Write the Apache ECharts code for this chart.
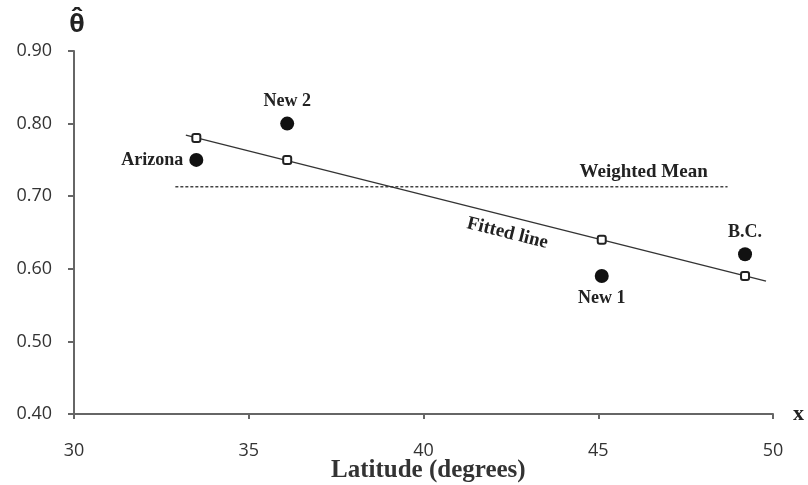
<!DOCTYPE html>
<html>
<head>
<meta charset="utf-8">
<script src="https://cdn.jsdelivr.net/npm/echarts@6/dist/echarts.min.js"></script>
<style>
  html, body { margin: 0; padding: 0; background: #fff; }
  #chart { width: 808px; height: 485px; }
</style>
</head>
<body>
<div id="chart"></div>
<script>
// latitude of each site, observed theta-hat and the fitted value
const latitudes = [33.5, 36.1, 45.1, 49.2]
const siteNames = ['Arizona', 'New 2', 'New 1', 'B.C.']
const labelPos = ['left', 'top', 'bottom', 'top']
const observed = [0.75, 0.80, 0.59, 0.62]
const fitted = [0.78, 0.75, 0.64, 0.59]

// regression line ends and weighted mean
const fitLineX = [33.2, 49.8]
const fitLineY = [0.784, 0.583]
const meanX = [32.9, 48.7]
const weightedMean = 0.713

// where the two line captions sit (data coords)
const captions = ['Weighted Mean', 'Fitted line']
const captionAt = [[46.3, 0.733], [42.4, 0.649]]
const captionRotate = [0, -14]

const xTicks = [30, 35, 40, 45, 50]
const yTicks = [0.4, 0.5, 0.6, 0.7, 0.8, 0.9]

const serif = '"Liberation Serif", "DejaVu Serif", serif'
const sans = '"Open Sans", "Noto Sans", sans-serif'
const ink = '#222'

const chart = echarts.init(document.getElementById('chart'))

const option = {
  animation: false,
  grid: { left: 74, right: 35, top: 51, bottom: 71 },
  title: {
    text: 'Latitude (degrees)',
    left: 326,
    top: 453,
    textStyle: { fontFamily: serif, fontSize: 25, fontWeight: 'bold', color: '#333' }
  },
  xAxis: {
    type: 'value',
    min: xTicks[0],
    max: xTicks[xTicks.length - 1],
    interval: 5,
    name: 'x',
    nameLocation: 'end',
    nameGap: 20,
    nameTextStyle: { fontFamily: serif, fontSize: 22, fontWeight: 'bold', color: ink, verticalAlign: 'middle', padding: [8, 0, 0, 0] },
    axisLine: { lineStyle: { color: '#666', width: 2 } },
    axisTick: { show: true, length: 5, lineStyle: { color: '#666', width: 2 } },
    axisLabel: { fontFamily: sans, fontSize: 18, color: '#333', margin: 28 },
    splitLine: { show: false }
  },
  yAxis: {
    type: 'value',
    min: yTicks[0],
    max: yTicks[yTicks.length - 1],
    interval: 0.1,
    name: 'θ\u0302',
    nameLocation: 'end',
    nameGap: 14,
    nameTextStyle: { fontFamily: sans, fontSize: 25, fontWeight: 'bold', color: ink, align: 'center', padding: [0, 0, 0, 6] },
    axisLine: { show: true, lineStyle: { color: '#666', width: 2 } },
    axisTick: { show: true, length: 6, lineStyle: { color: '#666', width: 2 } },
    axisLabel: {
      fontFamily: sans, fontSize: 18, color: '#333', margin: 22,
      formatter: v => v.toFixed(2)
    },
    splitLine: { show: false }
  },
  series: [
    {
      name: 'Weighted Mean',
      type: 'line',
      data: meanX.map(x => [x, weightedMean]),
      symbol: 'none',
      lineStyle: { color: '#444', width: 1.5, type: [3, 2] },
      z: 1
    },
    {
      name: 'Fitted line',
      type: 'line',
      data: fitLineX.map((x, i) => [x, fitLineY[i]]),
      symbol: 'none',
      lineStyle: { color: '#333', width: 1.3 },
      z: 2
    },
    {
      name: 'Fitted',
      type: 'scatter',
      data: latitudes.map((x, i) => [x, fitted[i]]),
      symbol: 'roundRect',
      symbolSize: 8,
      itemStyle: { color: '#fff', borderColor: '#222', borderWidth: 2, opacity: 1 },
      z: 3
    },
    {
      name: 'Observed',
      type: 'scatter',
      data: latitudes.map((x, i) => ({
        value: [x, observed[i]],
        name: siteNames[i],
        label: { position: labelPos[i] }
      })),
      symbol: 'circle',
      symbolSize: 14,
      itemStyle: { color: '#111', opacity: 1 },
      label: {
        show: true,
        formatter: p => p.name,
        distance: 6,
        fontFamily: serif, fontSize: 18, fontWeight: 'bold', color: ink
      },
      z: 4
    },
    {
      name: 'Captions',
      type: 'scatter',
      data: captions.map((t, i) => ({
        value: captionAt[i],
        name: t,
        label: { rotate: captionRotate[i] }
      })),
      symbolSize: 1,
      itemStyle: { color: '#fff', opacity: 1 },
      label: {
        show: true,
        position: 'inside',
        formatter: p => p.name,
        fontFamily: serif, fontSize: 19, fontWeight: 'bold', color: ink,
        opacity: 1
      },
      z: 5
    }
  ]
}

chart.setOption(option)
</script>
</body>
</html>
